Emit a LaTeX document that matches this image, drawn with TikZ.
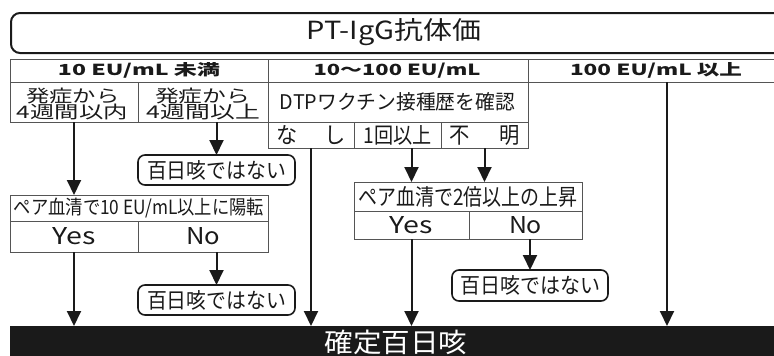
\documentclass[tikz,border=0pt]{standalone}
\usepackage{fontspec}
\usepackage{graphicx}
\setmainfont{Noto Sans CJK JP}
\usetikzlibrary{arrows.meta}
\definecolor{tabline}{HTML}{555555}
\definecolor{ink}{HTML}{1A1A1A}
\newcommand\fitto[3]{\resizebox{#1pt}{#2pt}{#3}}
\tikzset{
  cell/.style={draw=tabline, line width=1pt, anchor=north west, inner sep=0pt, outer sep=0pt, text=ink},
  notp/.style={draw=ink, line width=1.6pt, rounded corners=7pt, anchor=north west, inner sep=0pt, outer sep=0pt, text=ink},
  arr/.style={draw=ink, line width=2pt, -{Triangle[length=15pt,width=14pt]}},
  txt/.style={inner sep=0pt, text=ink},
}
\begin{document}
\begin{tikzpicture}[x=1pt,y=-1pt]
\useasboundingbox (0,0) rectangle (774,356);
% title
\node[draw=ink, line width=2pt, rounded corners=9pt, anchor=north west, inner sep=0pt, minimum width=800pt, minimum height=40pt] (title) at (10,12) {};
\node[txt] (titletext) at (394,32.5) {\fitto{174}{21}{PT-IgG抗体価}};
% header row
\node[cell, minimum width=258pt, minimum height=23pt] (h1) at (10,59) {\bfseries\fitto{162}{13}{10 EU/mL 未満}};
\node[cell, minimum width=260pt, minimum height=23pt] (h2) at (268,59) {};
\node[txt] (h2t) at (397,70.5) {\bfseries\fitto{167}{12.5}{10〜100 EU/mL}};
\node[cell, minimum width=260pt, minimum height=23pt] (h3) at (528,59) {};
\node[txt] (h3t) at (656,70.5) {\bfseries\fitto{172}{13}{100 EU/mL 以上}};
% second row
\node[cell, minimum width=128pt, minimum height=40pt] (c1) at (10,82) {};
\node[txt] (c1a) at (73,95.5) {\fitto{93}{14.5}{発症から}};
\node[txt] (c1b) at (72.5,111.5) {\fitto{111}{14.5}{4週間以内}};
\node[cell, minimum width=130pt, minimum height=40pt] (c2) at (138,82) {};
\node[txt] (c2a) at (202.5,95.5) {\fitto{95}{14.5}{発症から}};
\node[txt] (c2b) at (203.5,111.5) {\fitto{113}{14.5}{4週間以上}};
\node[cell, minimum width=260pt, minimum height=40pt] (dtp) at (268,82) {};
\node[txt] (dtpt) at (397.5,101.5) {\fitto{235}{17}{DTPワクチン接種歴を確認}};
% third row (middle)
\node[cell, minimum width=86pt, minimum height=26pt] (none) at (268,122) {\fitto{70}{18}{な\hspace{1.3em}し}};
\node[cell, minimum width=87pt, minimum height=26pt] (once) at (354,122) {\fitto{68}{18}{1回以上}};
\node[cell, minimum width=87pt, minimum height=26pt] (unk) at (441,122) {\fitto{71}{18}{不\hspace{1.5em}明}};
% not pertussis boxes
\node[notp, minimum width=157pt, minimum height=30pt] (nh1) at (138,155) {\fitto{139}{18}{百日咳ではない}};
\node[notp, minimum width=157pt, minimum height=30pt] (nh2) at (138,285) {\fitto{139}{18}{百日咳ではない}};
\node[notp, minimum width=156pt, minimum height=31pt] (nh3) at (452,270) {\fitto{140}{18}{百日咳ではない}};
% left paired serum box
\node[cell, minimum width=258pt, minimum height=26pt] (pL) at (10,195) {\fitto{250}{16.5}{ペア血清で10 EU/mL以上に陽転}};
\node[cell, minimum width=128pt, minimum height=31pt] (yL) at (10,221) {\fitto{43}{17}{Yes}};
\node[cell, minimum width=130pt, minimum height=31pt] (nL) at (138,221) {\fitto{34}{17}{No}};
% middle paired serum box
\node[cell, minimum width=228pt, minimum height=29pt] (pM) at (354,182) {\fitto{219}{19}{ペア血清で2倍以上の上昇}};
\node[cell, minimum width=115pt, minimum height=28pt] (yM) at (354,211) {\fitto{43}{17}{Yes}};
\node[cell, minimum width=113pt, minimum height=28pt] (nM) at (469,211) {\fitto{33}{17}{No}};
% bottom bar
\node[fill=ink, anchor=north west, inner sep=0pt, outer sep=0pt, minimum width=800pt, minimum height=40pt] (bar) at (10,326) {};
\node[inner sep=0pt, text=white] (bartext) at (396,342.5) {\fitto{143}{22.5}{確定百日咳}};
\coordinate (rx) at (667,0);
% arrows
\draw[arr] (c1.south) -- (c1.south |- pL.north);
\draw[arr] (nh1.north |- c2.south) -- (nh1.north);
\draw[arr] (yL.south) -- (yL.south |- bar.north);
\draw[arr] (nh2.north |- nL.south) -- (nh2.north);
\draw[arr] (none.south) -- (none.south |- bar.north);
\draw[arr] (yM.south |- once.south) -- (yM.south |- pM.north);
\draw[arr] (unk.south) -- (unk.south |- pM.north);
\draw[arr] (yM.south) -- (yM.south |- bar.north);
\draw[arr] (nh3.north |- nM.south) -- (nh3.north);
\draw[arr] (rx |- h3.south) -- (rx |- bar.north);
\end{tikzpicture}
\end{document}
